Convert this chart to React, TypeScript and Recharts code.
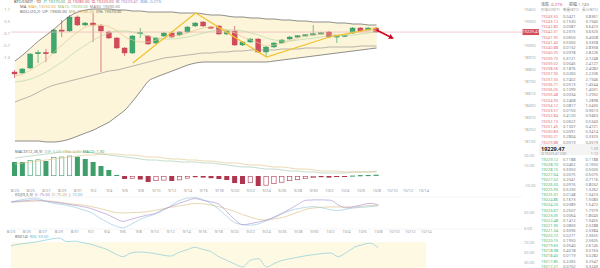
import React from 'react';
import { ComposedChart, Bar, Line, Area, XAxis, YAxis, ReferenceLine, ReferenceArea, CartesianGrid } from 'recharts';

const FONT = '"Noto Sans", "Noto Sans CJK SC", sans-serif';
const UP = '#3fa86f';
const DOWN = '#d44b5c';
const MACD_UP = '#3f9f6b';
const MACD_DOWN = '#b0364f';
const AXIS_TEXT = '#a8a8a8';

// daily sessions, the tail is empty room on the right of the price panel
const dates = [
  '8/23', '8/24', '8/25', '8/26', '8/27', '8/28', '8/29', '8/30', '8/31', '9/1',
  '9/2', '9/3', '9/4', '9/5', '9/6', '9/7', '9/8', '9/9', '9/10', '9/11',
  '9/12', '9/13', '9/14', '9/15', '9/16', '9/17', '9/18', '9/19', '9/20', '9/21',
  '9/22', '9/23', '9/24', '9/25', '9/26', '9/27', '9/28', '9/29', '9/30', '10/1',
  '10/2', '10/3', '10/4', '10/5', '10/6', '10/7', '10/8', '10/9', '10/10', '10/11',
  '10/12', '10/13', '10/14', '10/15',
];

const open = [
  18830, 18820, 18870, 19015, 19025, 19020, 19250, 19240, 19380, 19300,
  19320, 19290, 19230, 19170, 19070, 19020, 19215, 19190, 19120, 19190,
  19220, 19200, 19230, 19290, 19330, 19280, 19290, 19210, 19240, 19100,
  19130, 19160, 19030, 19080, 19120, 19160, 19185, 19195, 19205, 19215,
  19230, 19185, 19190, 19220, 19270, 19250, 19270,
];
const high = [
  18850, 18870, 19020, 19050, 19060, 19265, 19350, 19400, 19395, 19330,
  19420, 19310, 19245, 19180, 19080, 19200, 19270, 19200, 19180, 19230,
  19235, 19240, 19290, 19330, 19340, 19290, 19300, 19250, 19290, 19140,
  19170, 19170, 19090, 19130, 19160, 19190, 19200, 19210, 19300, 19230,
  19240, 19200, 19205, 19280, 19280, 19278, 19280,
];
const low = [
  18770, 18810, 18860, 18920, 18930, 19010, 19180, 19230, 19290, 19290,
  19130, 18830, 19160, 19060, 18990, 19010, 19170, 19100, 19110, 19180,
  19170, 19190, 19220, 19280, 19280, 19265, 19200, 19200, 19090, 19090,
  19120, 19020, 18980, 19070, 19110, 19150, 19175, 19188, 19198, 19208,
  19170, 19120, 19182, 19210, 19230, 19245, 19220,
];
const close = [
  18810, 18860, 19010, 19025, 19018, 19250, 19240, 19380, 19300, 19320,
  19300, 19240, 19170, 19070, 19020, 19190, 19225, 19110, 19170, 19220,
  19180, 19230, 19280, 19320, 19290, 19275, 19210, 19240, 19100, 19130,
  19160, 19030, 19080, 19120, 19150, 19180, 19192, 19202, 19212, 19222,
  19180, 19192, 19198, 19270, 19240, 19270, 19229.47,
];

const ma5 = [
  18790, 18810, 18850, 18900, 18950, 19030, 19100, 19170, 19230, 19280,
  19300, 19300, 19280, 19240, 19180, 19150, 19130, 19130, 19150, 19170,
  19190, 19200, 19220, 19250, 19270, 19280, 19270, 19250, 19220, 19180,
  19150, 19120, 19090, 19100, 19120, 19140, 19170, 19190, 19200, 19210,
  19210, 19200, 19200, 19220, 19230, 19240, 19250,
];
const ma10 = [
  18730, 18740, 18760, 18790, 18830, 18880, 18930, 18990, 19050, 19100,
  19150, 19190, 19220, 19240, 19240, 19230, 19210, 19190, 19170, 19160,
  19160, 19170, 19180, 19200, 19220, 19240, 19250, 19250, 19250, 19240,
  19220, 19200, 19170, 19150, 19140, 19140, 19150, 19160, 19170, 19180,
  19190, 19190, 19200, 19200, 19210, 19220, 19230,
];
const ma30 = [
  18530, 18560, 18590, 18630, 18670, 18700, 18720, 18740, 18760, 18780,
  18800, 18820, 18840, 18850, 18870, 18890, 18910, 18930, 18950, 18970,
  18980, 18990, 19000, 19010, 19020, 19020, 19030, 19030, 19040, 19040,
  19050, 19050, 19050, 19050, 19060, 19060, 19060, 19070, 19070, 19070,
  19080, 19080, 19080, 19080, 19090, 19090, 19090,
];
const bollUp = [
  18940, 19000, 19070, 19140, 19200, 19260, 19330, 19390, 19430, 19450,
  19460, 19460, 19460, 19450, 19450, 19440, 19440, 19430, 19430, 19430,
  19430, 19420, 19420, 19420, 19410, 19400, 19400, 19390, 19380, 19380,
  19370, 19370, 19360, 19360, 19350, 19350, 19340, 19340, 19330, 19330,
  19330, 19320, 19320, 19310, 19310, 19300, 19300,
];
const bollDn = [
  18140, 18140, 18140, 18140, 18130, 18130, 18140, 18160, 18190, 18220,
  18250, 18290, 18330, 18390, 18450, 18540, 18640, 18740, 18780, 18810,
  18840, 18870, 18900, 18920, 18930, 18930, 18930, 18930, 18930, 18930,
  18930, 18930, 18930, 18940, 18950, 18960, 18970, 18980, 18990, 19000,
  19010, 19020, 19030, 19040, 19050, 19060, 19070,
];

// swing line and projection
const zigIdx = [15, 23, 32, 40, 46];
const zigVal = [18920, 19420, 18980, 19180, 19270];
const fcIdx = [46, 48];
const fcVal = [19250, 19170];

const hist = [
  14, 14, 16, 16.5, 15, 18.7, 19.3, 20.3, 19.3, 17,
  14, 10, 6, 1, -3, -2.6, -3.5, -6, -5, -4.4,
  -5, -4.2, -2.5, -1.2, -1.6, -2.2, -3, -4, -7, -8,
  -7, -10, -9.5, -8, -6.5, -5, -4, -3, -2, -1.2,
  -1.6, -1, -0.6, 0.4, 0.7, 0.9, 1.3,
];
const dif = [
  18, 19, 20, 21, 22, 23, 24, 24, 24, 24,
  23, 22, 21, 20, 19, 18, 17, 16, 16, 15,
  15, 14, 14, 14, 13, 13, 12, 11, 10, 9,
  9, 8, 7, 7, 6, 5, 5, 4, 4, 3,
  3, 3, 3, 4, 4, 4, 5,
];
const dea = [
  12, 13, 14, 15, 16, 17, 18, 19, 20, 21,
  21, 22, 22, 22, 21, 21, 20, 19, 19, 18,
  17, 17, 16, 16, 15, 15, 14, 13, 13, 12,
  11, 11, 10, 9, 9, 8, 7, 7, 6, 5,
  5, 5, 4, 4, 4, 4, 4,
];

const kLine = [
  84, 87, 89, 91, 88, 85, 82, 78, 74, 70,
  64, 55, 46, 34, 24, 30, 37, 43, 48, 60,
  70, 80, 88, 95, 90, 85, 78, 55, 30, 13,
  17, 22, 28, 38, 50, 63, 78, 90, 91, 91,
  90, 75, 66, 70, 76, 80, 75,
];
const dLine = [
  84, 85, 86, 87, 88, 87, 84, 80, 77, 75,
  70, 65, 58, 52, 50, 51, 52, 54, 58, 63,
  68, 72, 76, 80, 79, 75, 70, 63, 55, 45,
  37, 30, 28, 32, 36, 44, 53, 62, 66, 68,
  69, 69, 69, 69, 71, 73, 75,
];
const jLine = [
  85, 90, 94, 97, 90, 82, 78, 74, 68, 60,
  52, 36, 22, 10, 4, 14, 28, 38, 46, 58,
  72, 88, 96, 98, 92, 80, 62, 40, 20, 14,
  12, 16, 26, 36, 48, 58, 64, 68, 70, 66,
  60, 58, 62, 66, 68, 70, 72,
];
const rsi = [
  63, 66, 68, 70, 73, 76, 78, 71, 72, 69,
  66, 61, 56, 48, 42, 49, 51, 50, 48, 45,
  43, 50, 55, 60, 56, 52, 42, 35, 28, 22,
  35, 38, 22, 29, 35, 38, 41, 44, 46, 48,
  49, 42, 50, 60, 65, 68, 59,
];

// 19210 sits under the last-price tag, so it is left out
const priceTicks = [19450, 19330, 19090, 18970, 18850, 18730, 18610, 18490, 18370, 18250, 18130];
const pctTicks = [19450, 19330, 19210, 19090, 18970];

// order book
const askPrice = [
  19243.5, 19243.12, 19242.8, 19242.31, 19241.95, 19241.4, 19240.88, 19240.25, 19239.7, 19239.02,
  19238.56, 19237.9, 19237.33, 19236.71, 19236.05, 19235.48, 19234.9, 19234.12, 19233.57, 19232.84,
  19232.1, 19231.45, 19230.83, 19230.21, 19229.88,
];
const askAmount = [
  0.0421, 0.153, 0.0087, 0.2315, 0.065, 0.5, 0.0132, 0.0978, 0.3121, 0.0045,
  0.1876, 0.026, 0.7402, 0.0513, 0.1099, 0.0034, 0.2468, 0.0817, 0.015, 0.412,
  0.0622, 0.1307, 0.0091, 0.2804, 0.0519,
];
const bidPrice = [
  19229.12, 19228.7, 19228.15, 19227.64, 19227.02, 19226.5, 19225.93, 19225.31, 19224.86, 19224.2,
  19223.67, 19223.05, 19222.48, 19221.9, 19221.34, 19220.72, 19220.15, 19219.6, 19218.98, 19218.4,
  19217.85, 19217.21,
];
const bidAmount = [
  0.1188, 0.0462, 0.335, 0.0075, 0.2041, 0.0916, 0.523, 0.0148, 0.1673, 0.0389,
  0.2507, 0.0064, 0.1412, 0.0833, 0.3096, 0.0271, 0.195, 0.054, 0.4018, 0.0119,
  0.2265, 0.0702,
];

const SLOTS = 65;
const last = close.length - 1;
const lastClose = close[last];

const rows = Array.from({ length: SLOTS }, (_, i) => ({
  i,
  o: open[i],
  h: high[i],
  l: low[i],
  c: close[i],
  ma5: ma5[i],
  ma10: ma10[i],
  ma30: ma30[i],
  bu: bollUp[i],
  bd: bollDn[i],
  zz: zigIdx.includes(i) ? zigVal[zigIdx.indexOf(i)] : undefined,
  fc: fcIdx.includes(i) ? fcVal[fcIdx.indexOf(i)] : undefined,
  hist: hist[i],
  prevHist: i > 0 ? hist[i - 1] : undefined,
  dif: dif[i],
  dea: dea[i],
  k: kLine[i],
  kd: dLine[i],
  kj: jLine[i],
  rsi: rsi[i],
}));

const Candle = (props: any) => {
  const { x, y, width, height, payload } = props;
  if (payload.h == null) return null;
  const top = Math.min(y, y + height);
  const span = Math.abs(height);
  const k = span / (payload.h - payload.l);
  const rising = payload.c >= payload.o;
  const color = rising ? UP : DOWN;
  const bodyTop = top + (payload.h - Math.max(payload.o, payload.c)) * k;
  const bodyH = Math.max(1.3, Math.abs(payload.o - payload.c) * k);
  const cx = x + width / 2;
  return (
    <g>
      <line x1={cx} x2={cx} y1={top} y2={top + span} stroke={color} strokeWidth={0.7} />
      <rect x={x} y={bodyTop} width={width} height={bodyH} fill={color} stroke={rising ? '#2f8a57' : '#b23a4a'} strokeWidth={0.35} />
    </g>
  );
};

// hollow bar while the histogram is climbing, solid while it falls
const MacdBar = (props: any) => {
  const { x, y, width, height, payload } = props;
  if (payload.hist == null) return null;
  const top = Math.min(y, y + height);
  const h = Math.max(0.8, Math.abs(height));
  const color = payload.hist >= 0 ? MACD_UP : MACD_DOWN;
  const climbing = payload.prevHist != null && payload.hist > payload.prevHist;
  if (climbing) {
    return <rect x={x + 0.3} y={top + 0.3} width={width - 0.6} height={Math.max(0.4, h - 0.6)} fill="none" stroke={color} strokeWidth={0.6} />;
  }
  return <rect x={x} y={top} width={width} height={h} fill={color} />;
};

const PriceTag = (props: any) => {
  const vb = props.viewBox || {};
  const x = vb.x + vb.width;
  const y = vb.y;
  return (
    <g>
      <rect x={x + 0.5} y={y - 3} width={17} height={6} fill={DOWN} />
      <text x={x + 9} y={y + 1.4} fontSize={4} fill="#fff" textAnchor="middle" fontFamily={FONT}>
        {lastClose.toFixed(2)}
      </text>
    </g>
  );
};

const axisTick = { fontSize: 4, fill: AXIS_TEXT, fontFamily: FONT };
const dateTick = { fontSize: 4, fill: '#9a9a9a', fontFamily: FONT };
const fmtDate = (i: number) => dates[i] ?? '';

const txt = (top: number, left: number, parts: [string, string][], size = 4) => (
  <div style={{ position: 'absolute', top, left, fontSize: size, lineHeight: 1, whiteSpace: 'nowrap', fontFamily: FONT }}>
    {parts.map(([t, c], n) => (
      <span key={n} style={{ color: c, marginRight: 2 }}>{t}</span>
    ))}
  </div>
);

const OrderBook = () => {
  const askTotals = askAmount.map((_, i) => askAmount.slice(i).reduce((a, b) => a + b, 0));
  const bidTotals = bidAmount.map((_, i) => bidAmount.slice(0, i + 1).reduce((a, b) => a + b, 0));
  const line = (key: string, top: number, price: number, amt: number, tot: number, color: string) => (
    <div key={key} style={{ position: 'absolute', top, left: 0, width: 61, height: 5, fontSize: 4, lineHeight: '5px' }}>
      <span style={{ position: 'absolute', left: 2, color }}>{price.toFixed(2)}</span>
      <span style={{ position: 'absolute', left: 24, color: '#7a7a7a' }}>{amt.toFixed(4)}</span>
      <span style={{ position: 'absolute', right: 2, color: '#7a7a7a' }}>{tot.toFixed(4)}</span>
    </div>
  );
  return (
    <div style={{ position: 'absolute', left: 539, top: 0, width: 61, height: 268, fontFamily: FONT, background: '#fff' }}>
      <div style={{ position: 'absolute', top: 0.5, left: 2, fontSize: 4, color: '#666' }}>涨跌 <span style={{ color: DOWN }}>-0.21%</span></div>
      <div style={{ position: 'absolute', top: 0.5, left: 30, fontSize: 4, color: '#666' }}>振幅 <span style={{ color: '#888' }}>1.74%</span></div>
      <div style={{ position: 'absolute', top: 6.5, left: 2, fontSize: 3.6, color: '#9a9a9a' }}>价格(USDT)</div>
      <div style={{ position: 'absolute', top: 6.5, left: 24, fontSize: 3.6, color: '#9a9a9a' }}>数量(BTC)</div>
      <div style={{ position: 'absolute', top: 6.5, right: 2, fontSize: 3.6, color: '#9a9a9a' }}>累计(BTC)</div>
      {askPrice.map((p, i) => line('a' + i, 13.5 + i * 5.25, p, askAmount[i], askTotals[i], '#e0707f'))}
      <div style={{ position: 'absolute', top: 144, left: 0, width: 61, height: 11, background: '#f4f4f4' }} />
      <div style={{ position: 'absolute', top: 144.5, left: 2, fontSize: 5.5, fontWeight: 700, color: '#222' }}>{lastClose.toFixed(2)}</div>
      <div style={{ position: 'absolute', top: 146, right: 2, fontSize: 3.6, color: '#999' }}>1.09</div>
      <div style={{ position: 'absolute', top: 151, left: 2, fontSize: 3.4, color: '#999' }}>≈{lastClose.toFixed(2)} USD</div>
      <div style={{ position: 'absolute', top: 151, right: 2, fontSize: 3.6, color: '#999' }}>1.12</div>
      {bidPrice.map((p, i) => line('b' + i, 156.5 + i * 5.1, p, bidAmount[i], bidTotals[i], '#3cb77a'))}
    </div>
  );
};

export default function App() {
  const lr = rows[last];
  const mid = (bollUp[last] + bollDn[last]) / 2;
  return (
    <div style={{ position: 'relative', width: 600, height: 268, overflow: 'hidden', background: '#fff', fontFamily: FONT }}>
      <style>{'body{margin:0}'}</style>
      <svg width={0} height={0} style={{ position: 'absolute' }}>
        <defs>
          <marker id="fcArrow" viewBox="0 0 6 6" refX="4" refY="3" markerWidth="3.5" markerHeight="3.5" orient="auto">
            <path d="M0,0 L6,3 L0,6 z" fill="#d0021b" />
          </marker>
        </defs>
      </svg>

      {/* price panel */}
      <div style={{ position: 'absolute', left: 0, top: 0 }}>
        <ComposedChart width={540} height={148} data={rows} margin={{ top: 2, right: 0, bottom: 2, left: 0 }}>
          <XAxis dataKey="i" type="category" hide />
          <YAxis yAxisId="p" orientation="right" domain={[18090, 19530]} ticks={priceTicks} width={18} tick={axisTick} tickLine={false} axisLine={false} tickSize={0} tickMargin={2} allowDataOverflow />
          <YAxis yAxisId="pct" orientation="left" domain={[18090, 19530]} ticks={pctTicks} width={11} tick={axisTick} tickLine={false} axisLine={false} tickSize={0} tickMargin={1}
            tickFormatter={(v: number) => ((v / lastClose - 1) * 100).toFixed(1)} allowDataOverflow />
          <Area yAxisId="p" dataKey={(r: any) => (r.bu == null ? null : [r.bd, r.bu])} fill="#fcf5d9" fillOpacity={1} stroke="none" type="monotone" isAnimationActive={false} />
          <ReferenceLine yAxisId="p" y={lastClose} stroke="#efb3ba" strokeWidth={0.7} label={<PriceTag />} />
          <Line yAxisId="p" dataKey="bu" stroke="#5f5f5f" strokeWidth={0.7} dot={false} type="monotone" isAnimationActive={false} />
          <Line yAxisId="p" dataKey="bd" stroke="#5f5f5f" strokeWidth={0.7} dot={false} type="monotone" isAnimationActive={false} />
          <Line yAxisId="p" dataKey="ma30" stroke="#8a8a8a" strokeWidth={0.6} dot={false} type="monotone" isAnimationActive={false} />
          <Line yAxisId="p" dataKey="ma10" stroke="#b9d9a6" strokeWidth={0.7} dot={false} type="monotone" isAnimationActive={false} />
          <Line yAxisId="p" dataKey="ma5" stroke="#e6c690" strokeWidth={0.7} dot={false} type="monotone" isAnimationActive={false} />
          <Line yAxisId="p" dataKey="zz" stroke="#f2c12e" strokeWidth={1.2} dot={false} connectNulls isAnimationActive={false} />
          <Bar yAxisId="p" dataKey={(r: any) => (r.h == null ? null : [r.l, r.h])} barSize={5} shape={Candle} isAnimationActive={false} />
          <Line yAxisId="p" dataKey="fc" stroke="#d0021b" strokeWidth={1.5} dot={false} connectNulls markerEnd="url(#fcArrow)" isAnimationActive={false} />
        </ComposedChart>
      </div>
      {txt(-0.5, 14, [['BTC/USDT · 1D', '#444'], ['开 ' + lr.o.toFixed(2), UP], ['高 ' + lr.h.toFixed(2), DOWN], ['低 ' + lr.l.toFixed(2), DOWN], ['收 ' + lr.c.toFixed(2), '#a77cc4'], ['涨跌 -0.21%', '#5b9bd5']])}
      {txt(4.5, 20, [['MA', '#666'], ['MA5: ' + ma5[last].toFixed(2), '#d9a94a'], ['MA10: ' + ma10[last].toFixed(2), '#8fbf6f'], ['MA30: ' + ma30[last].toFixed(2), '#8a8a8a']])}
      {txt(9.5, 20, [['BOLL(20,2)', '#666'], ['UP: ' + bollUp[last].toFixed(2), '#5f5f5f'], ['MB: ' + mid.toFixed(2), '#c9a86a'], ['DN: ' + bollDn[last].toFixed(2), '#5f5f5f']])}

      {/* MACD */}
      <div style={{ position: 'absolute', left: 0, top: 147 }}>
        <ComposedChart width={540} height={49} data={rows} margin={{ top: 1, right: 0, bottom: 0, left: 11 }}>
          <XAxis dataKey="i" type="category" interval={1} tick={dateTick} tickFormatter={fmtDate} tickLine={false} axisLine={false} tickSize={0} tickMargin={1} height={8} />
          <YAxis yAxisId="m" orientation="right" domain={[-12, 28]} ticks={[20, 10, 0, -10]} width={18} tick={axisTick} tickLine={false} axisLine={false} tickSize={0} tickMargin={2}
            tickFormatter={(v: number) => v.toFixed(2)} allowDataOverflow />
          <Bar yAxisId="m" dataKey="hist" barSize={5} shape={MacdBar} isAnimationActive={false} />
          <Line yAxisId="m" dataKey="dif" stroke="#a9cdb4" strokeWidth={0.7} dot={false} type="monotone" isAnimationActive={false} />
          <Line yAxisId="m" dataKey="dea" stroke="#e2c994" strokeWidth={0.7} dot={false} type="monotone" isAnimationActive={false} />
        </ComposedChart>
      </div>
      {txt(149.5, 15, [['MACD(12,26,9)', '#666'], ['DIF: ' + dif[last].toFixed(2), '#8fbf9f'], ['DEA: ' + dea[last].toFixed(2), '#d9b56a'], ['MACD: ' + hist[last].toFixed(2), MACD_UP]])}

      {/* KDJ */}
      <div style={{ position: 'absolute', left: 0, top: 196 }}>
        <ComposedChart width={540} height={40} data={rows} margin={{ top: 1, right: 0, bottom: 0, left: 11 }}>
          <CartesianGrid yAxisId="kdj" vertical={false} stroke="#efefef" strokeWidth={0.6} />
          <XAxis dataKey="i" type="category" interval={1} tick={dateTick} tickFormatter={fmtDate} tickLine={false} axisLine={false} tickSize={0} tickMargin={1} height={7} />
          <YAxis yAxisId="kdj" orientation="right" domain={[0, 100]} ticks={[100, 50, 0]} width={18} tick={axisTick} tickLine={false} axisLine={false} tickSize={0} tickMargin={2}
            tickFormatter={(v: number) => v.toFixed(2)} />
          <Line yAxisId="kdj" dataKey="kd" stroke="#dcc48e" strokeWidth={0.7} dot={false} type="monotone" isAnimationActive={false} />
          <Line yAxisId="kdj" dataKey="kj" stroke="#9ccbe3" strokeWidth={0.7} dot={false} type="monotone" isAnimationActive={false} />
          <Line yAxisId="kdj" dataKey="k" stroke="#b09ad3" strokeWidth={0.7} dot={false} type="monotone" isAnimationActive={false} />
        </ComposedChart>
      </div>
      {txt(192.5, 15, [['KDJ(9,3,3)', '#666'], ['K: ' + kLine[last].toFixed(2), '#9a82c4'], ['D: ' + dLine[last].toFixed(2), '#c9a86a'], ['J: ' + jLine[last].toFixed(2), '#6fb3d6']])}

      {/* RSI */}
      <div style={{ position: 'absolute', left: 0, top: 237 }}>
        <ComposedChart width={540} height={31} data={rows} margin={{ top: 0, right: 0, bottom: 0, left: 11 }}>
          <XAxis dataKey="i" type="category" hide />
          <YAxis yAxisId="r" orientation="right" domain={[20, 80]} ticks={[70, 50, 30]} width={18} tick={axisTick} tickLine={false} axisLine={false} tickSize={0} tickMargin={2}
            tickFormatter={(v: number) => v.toFixed(2)} allowDataOverflow />
          <ReferenceArea yAxisId="r" x1={0} x2={52} y1={20} y2={70} fill="#fdf9e2" fillOpacity={1} stroke="none" />
          <Line yAxisId="r" dataKey="rsi" stroke="#86cddc" strokeWidth={0.7} dot={false} type="monotone" isAnimationActive={false} />
        </ComposedChart>
      </div>
      {txt(234.5, 15, [['RSI(14)', '#666'], ['RSI: ' + rsi[last].toFixed(2), '#5fb7cc']])}

      <OrderBook />
    </div>
  );
}
